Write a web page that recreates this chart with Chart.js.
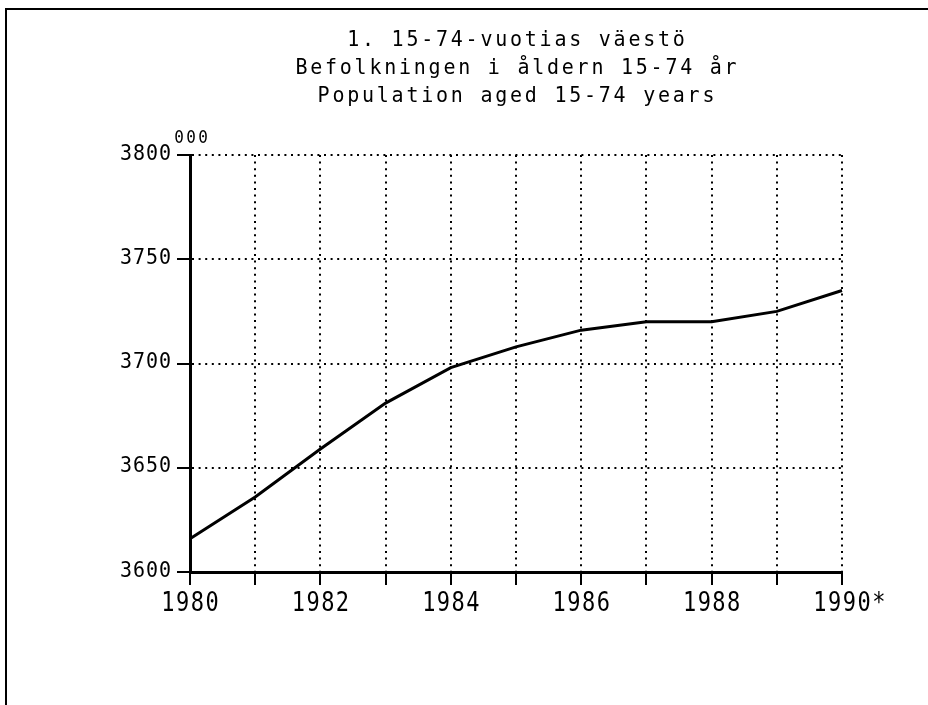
<!DOCTYPE html>
<html><head><meta charset="utf-8">
<script src="https://cdn.jsdelivr.net/npm/chart.js@4/dist/chart.umd.min.js"></script>
<style>html,body{margin:0;padding:0;background:#fff}#wrap{width:928px;height:705px;position:relative}</style>
</head><body><div id="wrap"><canvas id="c" width="928" height="705"></canvas></div>
<script>
const titleLines = ['1. 15-74-vuotias väestö', 'Befolkningen i åldern 15-74 år', 'Population aged 15-74 years'];
const years = ['1980','1981','1982','1983','1984','1985','1986','1987','1988','1989','1990'];
const xTickLabels = ['1980','','1982','','1984','','1986','','1988','','1990*'];
const population = [3616, 3636, 3659, 3681, 3698, 3708, 3716, 3720, 3720, 3725, 3735];
const yMin = 3600, yMax = 3800, yStep = 50;
const unitLabel = '000';

const MONO = '"DejaVu Sans Mono", "Liberation Mono", monospace';

// draw monospace text with fixed character pitch and vertical stretch
// centerChars: number of leading characters used for centring (footnote marks hang right)
function drawSpaced(ctx, text, x, cy, size, pitch, sy, align, centerChars) {
  ctx.save();
  ctx.font = size + 'px ' + MONO;
  ctx.textAlign = 'left';
  ctx.textBaseline = 'middle';
  ctx.fillStyle = '#000';
  const chars = Array.from(text);
  const adv = ctx.measureText('0').width;
  const n = centerChars || chars.length;
  const w = (n - 1) * pitch + adv;
  let x0 = x;
  if (align === 'center') x0 = x - w / 2;
  else if (align === 'right') x0 = x - w;
  ctx.translate(0, cy);
  ctx.scale(1, sy);
  chars.forEach((ch, i) => ctx.fillText(ch, x0 + i * pitch, 0));
  ctx.restore();
}

const framePlugin = {
  id: 'frame',
  beforeDraw(chart) {
    const ctx = chart.ctx;
    ctx.save();
    ctx.fillStyle = '#fff';
    ctx.fillRect(0, 0, chart.width, chart.height);
    ctx.strokeStyle = '#000';
    ctx.lineWidth = 2;
    ctx.beginPath();
    ctx.moveTo(6, 705);
    ctx.lineTo(6, 9);
    ctx.lineTo(928, 9);
    ctx.stroke();
    ctx.restore();
  },
  afterDraw(chart) {
    const ctx = chart.ctx;
    const ca = chart.chartArea;
    const cx = (ca.left + ca.right) / 2;
    const ys = [40.5, 68.5, 96];
    titleLines.forEach((t, i) => drawSpaced(ctx, t, cx, ys[i], 20, 14.8, 1.08, 'center'));

    const yScale = chart.scales.y;
    yScale.ticks.forEach(t => {
      const py = yScale.getPixelForValue(t.value);
      drawSpaced(ctx, String(t.value), ca.left - 19, py - 1, 20, 13, 1.1, 'right');
    });
    drawSpaced(ctx, unitLabel, ca.left + 1, yScale.getPixelForValue(yMax) - 16, 16, 12, 1.05, 'center');

    const xScale = chart.scales.x;
    xTickLabels.forEach((lab, i) => {
      if (!lab) return;
      const px = xScale.getPixelForTick(i);
      drawSpaced(ctx, lab, px, 604.5, 22, 14.7, 1.18, 'center', 4);
    });
  }
};

new Chart(document.getElementById('c'), {
  type: 'line',
  data: {
    labels: years,
    datasets: [{
      data: population,
      borderColor: '#000',
      borderWidth: 3,
      pointRadius: 0,
      tension: 0,
      fill: false
    }]
  },
  options: {
    responsive: false,
    animation: false,
    devicePixelRatio: 1,
    layout: { padding: { top: 155, right: 86, left: 0, bottom: 0 } },
    plugins: { legend: { display: false }, title: { display: false }, tooltip: { enabled: false } },
    scales: {
      x: {
        afterFit(s) { s.height = 133; },
        grid: { color: '#000', lineWidth: 2, tickLength: 13, tickColor: '#000', tickWidth: 2 },
        border: { display: true, color: '#000', width: 3, dash: [2, 4.6] },
        ticks: { display: false, autoSkip: false, maxRotation: 0 }
      },
      y: {
        min: yMin, max: yMax,
        afterFit(s) { s.width = 190; },
        grid: { color: '#000', lineWidth: 2, tickLength: 13, tickColor: '#000', tickWidth: 2 },
        border: { display: true, color: '#000', width: 3, dash: [2, 4.6] },
        ticks: { display: false, stepSize: yStep }
      }
    }
  },
  plugins: [framePlugin]
});
</script>
</body></html>
